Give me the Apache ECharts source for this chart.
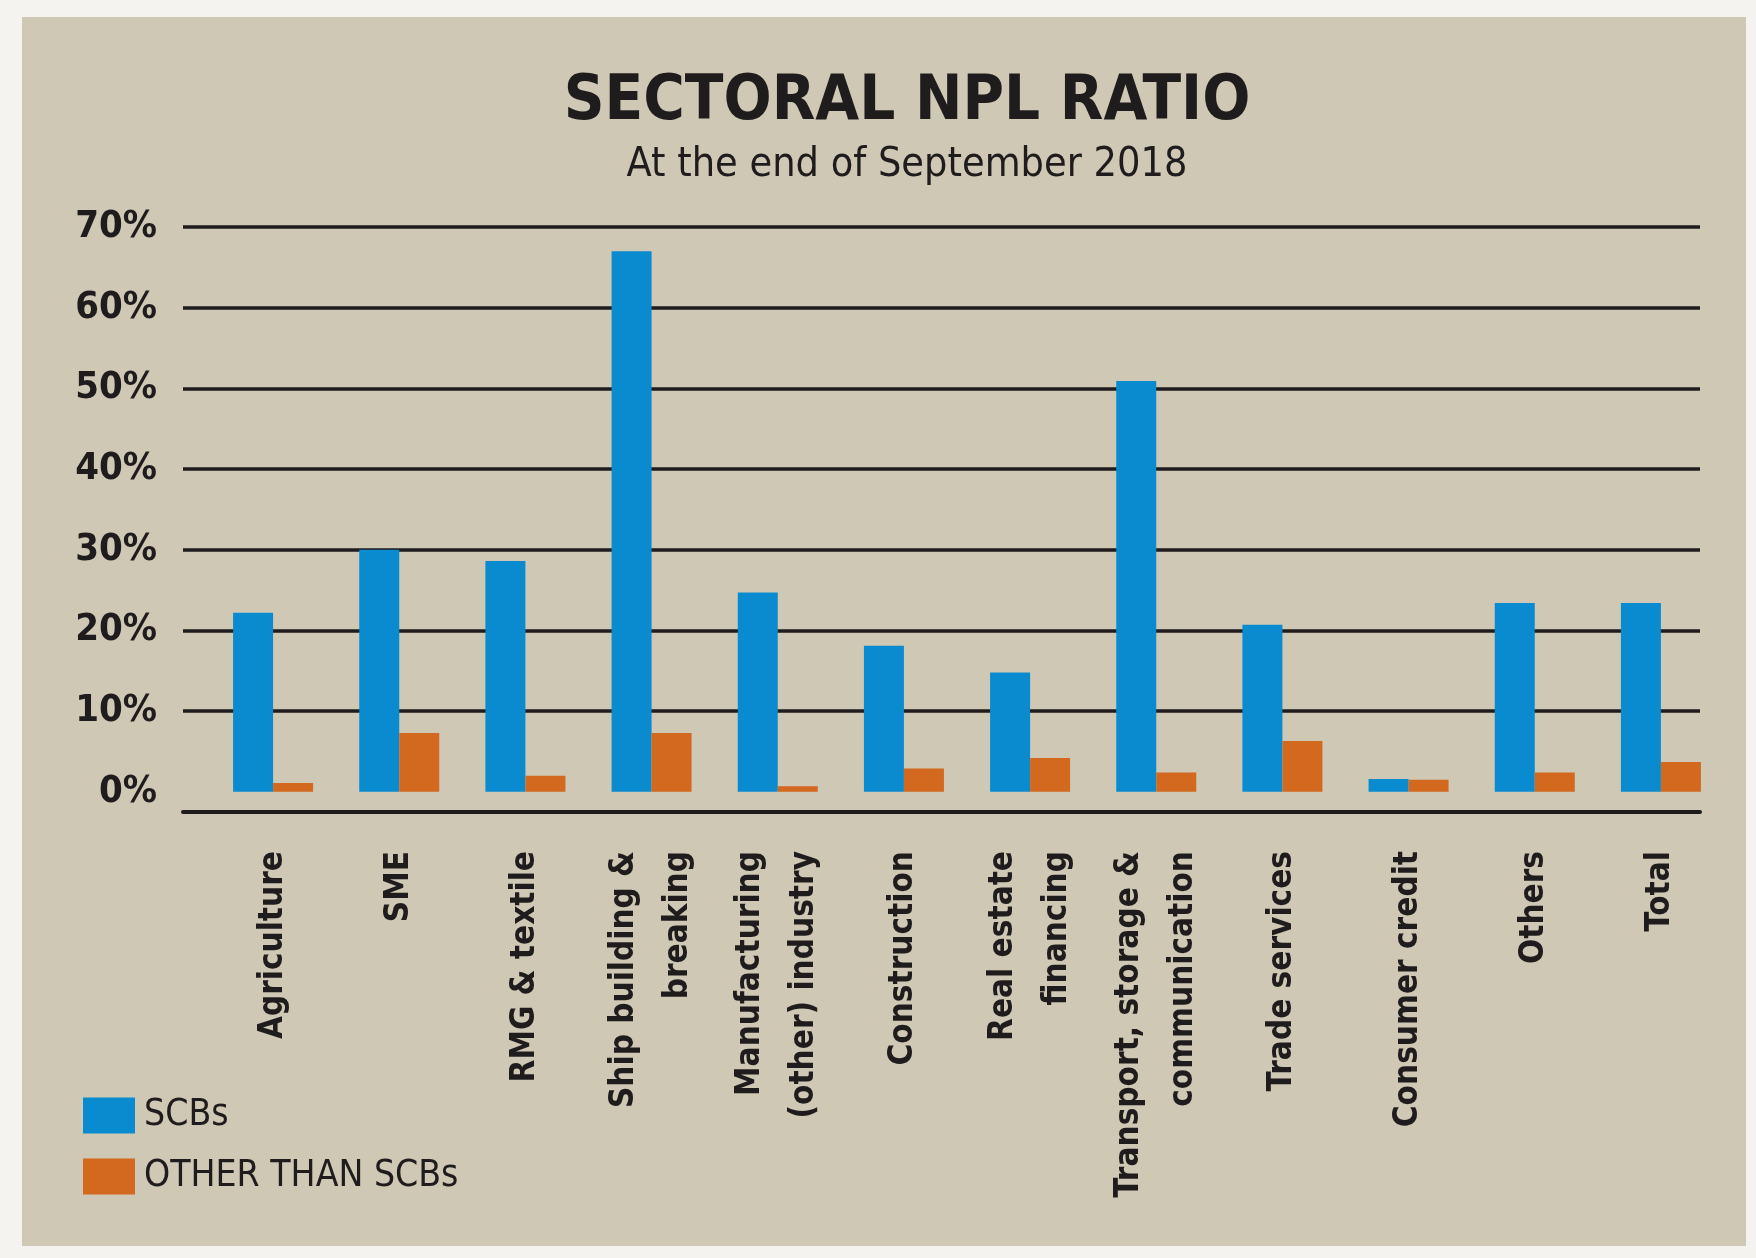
<!DOCTYPE html>
<html>
<head>
<meta charset="utf-8">
<script src="https://cdn.jsdelivr.net/npm/echarts@6/dist/echarts.min.js"></script>
<style>
  html, body { margin: 0; padding: 0; background: #f4f3ef; }
  #chart { width: 1756px; height: 1258px; }
</style>
</head>
<body>
<div id="chart"></div>
<script>
// sectors on the x axis
const categories = [
  'Agriculture',
  'SME',
  'RMG & textile',
  'Ship building &\nbreaking',
  'Manufacturing\n(other) industry',
  'Construction',
  'Real estate\nfinancing',
  'Transport, storage &\ncommunication',
  'Trade services',
  'Consumer credit',
  'Others',
  'Total'
]
// NPL ratio in %
const scbValues = [22.2, 30.0, 28.6, 67.0, 24.7, 18.1, 14.8, 50.9, 20.7, 1.6, 23.4, 23.4]
const otherValues = [1.1, 7.3, 2.0, 7.3, 0.7, 2.9, 4.2, 2.4, 6.3, 1.5, 2.4, 3.7]
const yTicks = [0, 10, 20, 30, 40, 50, 60, 70]
const gridTicks = [10, 20, 30, 40, 50, 60, 70]

const narrow = "'DejaVu Sans Condensed', 'Liberation Sans', sans-serif"
const ink = '#1e1c1c'

const chart = echarts.init(document.getElementById('chart'))

const option = {
  backgroundColor: '#f4f3ef',
  animation: false,
  graphic: [
    {
      type: 'rect',
      z: -10,
      shape: { x: 22, y: 17, width: 1724, height: 1229 },
      style: { fill: '#cec8b4' }
    },
    {
      type: 'text',
      x: 907,
      y: 103,
      style: {
        text: 'SECTORAL NPL RATIO',
        font: 'bold 63px ' + narrow,
        fill: ink,
        align: 'center',
        verticalAlign: 'middle'
      }
    },
    {
      type: 'text',
      x: 907,
      y: 165,
      style: {
        text: 'At the end of September 2018',
        font: '41px ' + narrow,
        fill: ink,
        align: 'center',
        verticalAlign: 'middle'
      }
    }
  ],
  legend: {
    orient: 'vertical',
    left: 78,
    top: 1092,
    itemWidth: 52,
    itemHeight: 36,
    itemGap: 24,
    icon: 'rect',
    textStyle: { fontFamily: narrow, fontSize: 37, color: ink, padding: [0, 0, 0, 4] },
    data: ['SCBs', 'OTHER THAN SCBs']
  },
  grid: [
    { left: 183, right: 56, top: 227, bottom: 446, outerBoundsMode: 'none' },
    { left: 210, right: 32, top: 227, bottom: 446, outerBoundsMode: 'none' }
  ],
  xAxis: [
    {
      gridIndex: 0,
      type: 'category',
      data: categories,
      axisLine: { onZero: false, lineStyle: { color: ink, width: 4 } },
      axisTick: { show: false },
      axisLabel: { show: false }
    },
    {
      gridIndex: 1,
      type: 'category',
      data: categories,
      axisLine: { show: false },
      axisTick: { show: false },
      axisLabel: {
        interval: 0,
        rotate: 90,
        margin: 39,
        fontFamily: narrow,
        fontWeight: 'bold',
        fontSize: 33,
        lineHeight: 54,
        color: ink
      }
    }
  ],
  yAxis: [
    {
      gridIndex: 0,
      type: 'value',
      min: -2.5,
      max: 70,
      axisLine: { show: false },
      axisTick: { show: false, customValues: gridTicks },
      axisLabel: {
        customValues: yTicks,
        formatter: '{value}%',
        margin: 26,
        fontFamily: narrow,
        fontWeight: 'bold',
        fontSize: 38,
        color: ink
      },
      splitLine: { show: true, lineStyle: { color: ink, width: 3.5 } }
    },
    {
      gridIndex: 1,
      type: 'value',
      min: -2.5,
      max: 70,
      show: false,
      splitLine: { show: false }
    }
  ],
  series: [
    {
      name: 'SCBs',
      type: 'bar',
      xAxisIndex: 1,
      yAxisIndex: 1,
      barWidth: 40,
      barGap: '0%',
      itemStyle: { color: '#0a8bd0' },
      data: scbValues
    },
    {
      name: 'OTHER THAN SCBs',
      type: 'bar',
      xAxisIndex: 1,
      yAxisIndex: 1,
      barWidth: 40,
      barGap: '0%',
      itemStyle: { color: '#d2691e' },
      data: otherValues
    }
  ]
}

chart.setOption(option)
</script>
</body>
</html>
